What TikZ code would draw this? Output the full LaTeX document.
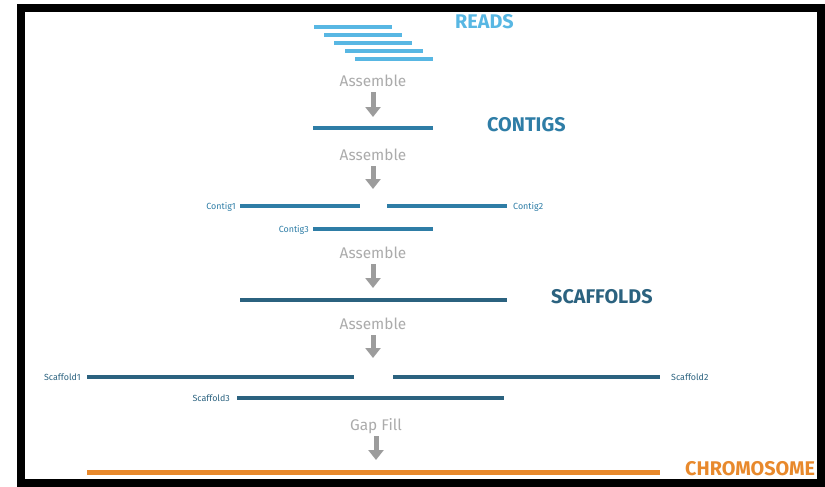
\documentclass[tikz,border=0pt]{standalone}
\usepackage{fontspec}
\setmainfont{Fira Sans}
\usepackage{tikz}
\usetikzlibrary{arrows.meta}
\definecolor{readblue}{HTML}{58B7E3}
\definecolor{contigblue}{HTML}{2E7DA6}
\definecolor{scaffblue}{HTML}{2B627F}
\definecolor{chromorange}{HTML}{E8892C}
\definecolor{steptext}{HTML}{ABABAB}
\definecolor{arrowgray}{HTML}{9C9C9C}
\newcommand{\stage}[1]{\fontsize{19.8}{22}\selectfont\bfseries #1}

\begin{document}
\begin{tikzpicture}[x=1pt,y=-1pt,
    bar/.style={fill, inner sep=0pt, minimum height=4pt},
    steplabel/.style={anchor=base, inner sep=0pt, text depth=0pt, text=steptext,
      font=\fontsize{15.4}{17}\selectfont},
    tag/.style={inner sep=0pt, font=\fontsize{8.9}{10}\selectfont},
    fatarrow/.style={draw=arrowgray, line width=5pt, shorten <=6pt,
      -{Triangle[width=15pt,length=10pt]}}]
    \useasboundingbox (0,0) rectangle (825,487);
    \draw[line width=8pt] (21,8) rectangle (821,483);
    % reads
    \node[bar, fill=readblue, minimum width=78pt] (R1) at (352.5,27) {};
    \node[bar, fill=readblue, minimum width=78pt] (R2) at (362.5,35) {};
    \node[bar, fill=readblue, minimum width=78pt] (R3) at (373,43) {};
    \node[bar, fill=readblue, minimum width=78pt] (R4) at (383.5,51) {};
    \node[bar, fill=readblue, minimum width=78pt] (R5) at (394,59) {};
    \node[anchor=base west, inner sep=0pt, text=readblue] (Reads) at (455,28.5) {\stage{READS}};
    \node[steplabel] (A1) at (373,86) {Assemble};
    \coordinate (A1end) at (373,117);
    \path[fatarrow] (A1) -- (A1end);
    % contigs
    \node[bar, fill=contigblue, minimum width=120pt] (C) at (373,128) {};
    \node[anchor=base west, inner sep=0pt, text=contigblue] (Contigs) at (487,131) {\stage{CONTIGS}};
    \node[steplabel] (A2) at (373,160) {Assemble};
    \coordinate (A2end) at (373,189);
    \path[fatarrow] (A2) -- (A2end);
    \node[bar, fill=contigblue, minimum width=120pt] (C1) at (300,206) {};
    \node[bar, fill=contigblue, minimum width=120pt] (C2) at (447,206) {};
    \node[bar, fill=contigblue, minimum width=120pt] (C3) at (373,229) {};
    \node[tag, anchor=base east, text=contigblue] (C1lab) at (236,209) {Contig1};
    \node[tag, anchor=base west, text=contigblue] (C2lab) at (513,209) {Contig2};
    \node[tag, anchor=base east, text=contigblue] (C3lab) at (309,232) {Contig3};
    \node[steplabel] (A3) at (373,258) {Assemble};
    \coordinate (A3end) at (373,288);
    \path[fatarrow] (A3) -- (A3end);
    % scaffolds
    \node[bar, fill=scaffblue, minimum width=267pt] (S) at (373.5,300) {};
    \node[anchor=base west, inner sep=0pt, text=scaffblue] (Scaffolds) at (551,303) {\stage{SCAFFOLDS}};
    \node[steplabel] (A4) at (373,329) {Assemble};
    \coordinate (A4end) at (373,358);
    \path[fatarrow] (A4) -- (A4end);
    \node[bar, fill=scaffblue, minimum width=267pt] (S1) at (220.5,377) {};
    \node[bar, fill=scaffblue, minimum width=267pt] (S2) at (526.5,377) {};
    \node[bar, fill=scaffblue, minimum width=267pt] (S3) at (370.5,398) {};
    \node[tag, anchor=base east, text=scaffblue] (S1lab) at (81,380) {Scaffold1};
    \node[tag, anchor=base west, text=scaffblue] (S2lab) at (671,380) {Scaffold2};
    \node[tag, anchor=base east, text=scaffblue] (S3lab) at (230,401) {Scaffold3};
    % chromosome
    \node[steplabel] (GF) at (376,430) {Gap Fill};
    \coordinate (GFend) at (376,460);
    \path[fatarrow] (GF) -- (GFend);
    \node[bar, fill=chromorange, minimum width=573pt, minimum height=5pt] (Chr) at (373.5,472) {};
    \node[anchor=base west, inner sep=0pt, text=chromorange] (Chromosome) at (685,475) {\stage{CHROMOSOME}};
\end{tikzpicture}
\end{document}
